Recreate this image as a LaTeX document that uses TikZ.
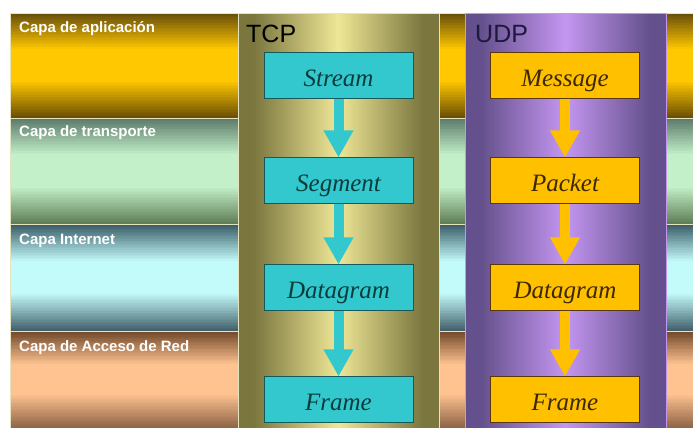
\documentclass[tikz,border=0pt]{standalone}
\usepackage{fontspec}
\setmainfont{Liberation Serif}
\setsansfont{Liberation Sans}
\usetikzlibrary{arrows.meta}

% layer band colours (top / middle / bottom)
\definecolor{appTop}{RGB}{100,75,10}
\definecolor{appMid}{RGB}{255,200,0}
\definecolor{appBot}{RGB}{105,78,5}
\definecolor{trTop}{RGB}{90,120,105}
\definecolor{trMid}{RGB}{195,240,200}
\definecolor{trBot}{RGB}{95,125,85}
\definecolor{inTop}{RGB}{55,90,100}
\definecolor{inMid}{RGB}{195,250,250}
\definecolor{inBot}{RGB}{65,95,105}
\definecolor{acTop}{RGB}{110,70,40}
\definecolor{acMid}{RGB}{255,195,145}
\definecolor{acBot}{RGB}{140,100,70}
\definecolor{sepLine}{RGB}{230,228,190}
% protocol columns
\definecolor{tcpEdge}{RGB}{122,118,62}
\definecolor{tcpMid}{RGB}{238,230,150}
\definecolor{udpEdge}{RGB}{100,80,140}
\definecolor{udpMid}{RGB}{195,150,240}
% boxes
\definecolor{tcpFill}{RGB}{50,200,205}
\definecolor{tcpLine}{RGB}{20,90,90}
\definecolor{tcpText}{RGB}{10,60,60}
\definecolor{udpFill}{RGB}{255,192,0}
\definecolor{udpLine}{RGB}{90,55,10}
\definecolor{udpText}{RGB}{60,40,0}
\definecolor{udpTitle}{RGB}{30,25,60}

% vertical gradient by strips: x0,ybottom,x1,ytop,top,mid,bottom colours
\newcommand\vgradient[7]{%
  \foreach \i in {0,...,69}{%
    \pgfmathsetmacro\tt{(\i+0.5)/70}%
    \pgfmathsetmacro\pa{100*max(0,1-\tt/0.35)}%
    \pgfmathsetmacro\qb{100-100*max(0,(\tt-0.65)/0.35)}%
    \pgfmathsetmacro\ya{#4-(#4-#2)/70*\i}%
    \pgfmathsetmacro\yb{#4-(#4-#2)/70*(\i+1)-0.3}%
    \fill[color={#5!\pa!#6!\qb!#7}] (#1,\ya) rectangle (#3,\yb);
  }}
% horizontal gradient by strips: x0,y0,x1,y1,edge,centre colours
\newcommand\hgradient[6]{%
  \foreach \i in {0,...,99}{%
    \pgfmathsetmacro\tt{(\i+0.5)/100}%
    \pgfmathsetmacro\pc{100*min(1,abs(\tt-0.5)/0.42)}%
    \pgfmathsetmacro\xa{#1+(#3-#1)/100*\i}%
    \pgfmathsetmacro\xb{#1+(#3-#1)/100*(\i+1)+0.3}%
    \fill[color={#5!\pc!#6}] (\xa,#2) rectangle (\xb,#4);
  }}

\tikzset{
  band/.style={draw=sepLine, line width=0.8pt},
  layerlabel/.style={anchor=base west, inner sep=0pt, text=white,
    font=\sffamily\bfseries\fontsize{15}{17}\selectfont},
  coltitle/.style={anchor=base west, inner sep=0pt,
    font=\sffamily\fontsize{25}{28}\selectfont},
  unitbox/.style={rectangle, minimum width=149pt, minimum height=46pt,
    text height=24pt, text depth=3pt,
    inner sep=0pt, line width=1pt, font=\itshape\fontsize{25}{28}\selectfont},
  tcpbox/.style={unitbox, fill=tcpFill, draw=tcpLine, text=tcpText},
  udpbox/.style={unitbox, fill=udpFill, draw=udpLine, text=udpText},
  flowarrow/.style={line width=10pt, -{Triangle[width=28pt,length=27pt]}},
}

\begin{document}
\begin{tikzpicture}[x=1pt,y=1pt]
\useasboundingbox (0,0) rectangle (693,428);
\fill[white] (0,0) rectangle (693,428);

% horizontal layer bands
\vgradient{10}{310}{693}{415}{appTop}{appMid}{appBot}
\vgradient{10}{204}{693}{310}{trTop}{trMid}{trBot}
\vgradient{10}{97}{693}{204}{inTop}{inMid}{inBot}
\vgradient{10}{0}{693}{97}{acTop}{acMid}{acBot}
\draw[band] (10,310) rectangle (694,415);
\draw[band] (10,204) rectangle (694,310);
\draw[band] (10,97) rectangle (694,204);
\draw[band] (10,-1) rectangle (694,97);

\node[layerlabel] (lapp) at (19,395) {Capa de aplicación};
\node[layerlabel] (ltr)  at (19,291) {Capa de transporte};
\node[layerlabel] (lin)  at (19,183) {Capa Internet};
\node[layerlabel] (lac)  at (19,76)  {Capa de Acceso de Red};

% protocol columns
\hgradient{238}{0}{439}{415}{tcpEdge}{tcpMid}
\draw[draw=sepLine, line width=0.6pt] (238,-1) rectangle (439,415);
\hgradient{465}{0}{666}{415}{udpEdge}{udpMid}
\draw[draw=udpMid, line width=0.6pt] (465,-1) rectangle (666,415);

\node[coltitle, text=black] (tcp) at (246,385) {TCP};
\node[coltitle, text=udpTitle] (udp) at (475,385) {UDP};

% TCP units
\node[tcpbox] (t1) at (338.5,352) {Stream};
\node[tcpbox] (t2) at (338.5,247) {Segment};
\node[tcpbox] (t3) at (338.5,140) {Datagram};
\node[tcpbox] (t4) at (338.5,28)  {Frame};

% UDP units
\node[udpbox] (u1) at (565,352) {Message};
\node[udpbox] (u2) at (565,247) {Packet};
\node[udpbox] (u3) at (565,140) {Datagram};
\node[udpbox] (u4) at (565,28)  {Frame};

% encapsulation arrows
\foreach \a/\b in {t1/t2, t2/t3, t3/t4}
  \draw[flowarrow, tcpFill] (\a.south) -- (\b.north);
\foreach \a/\b in {u1/u2, u2/u3, u3/u4}
  \draw[flowarrow, udpFill] (\a.south) -- (\b.north);
\end{tikzpicture}
\end{document}
